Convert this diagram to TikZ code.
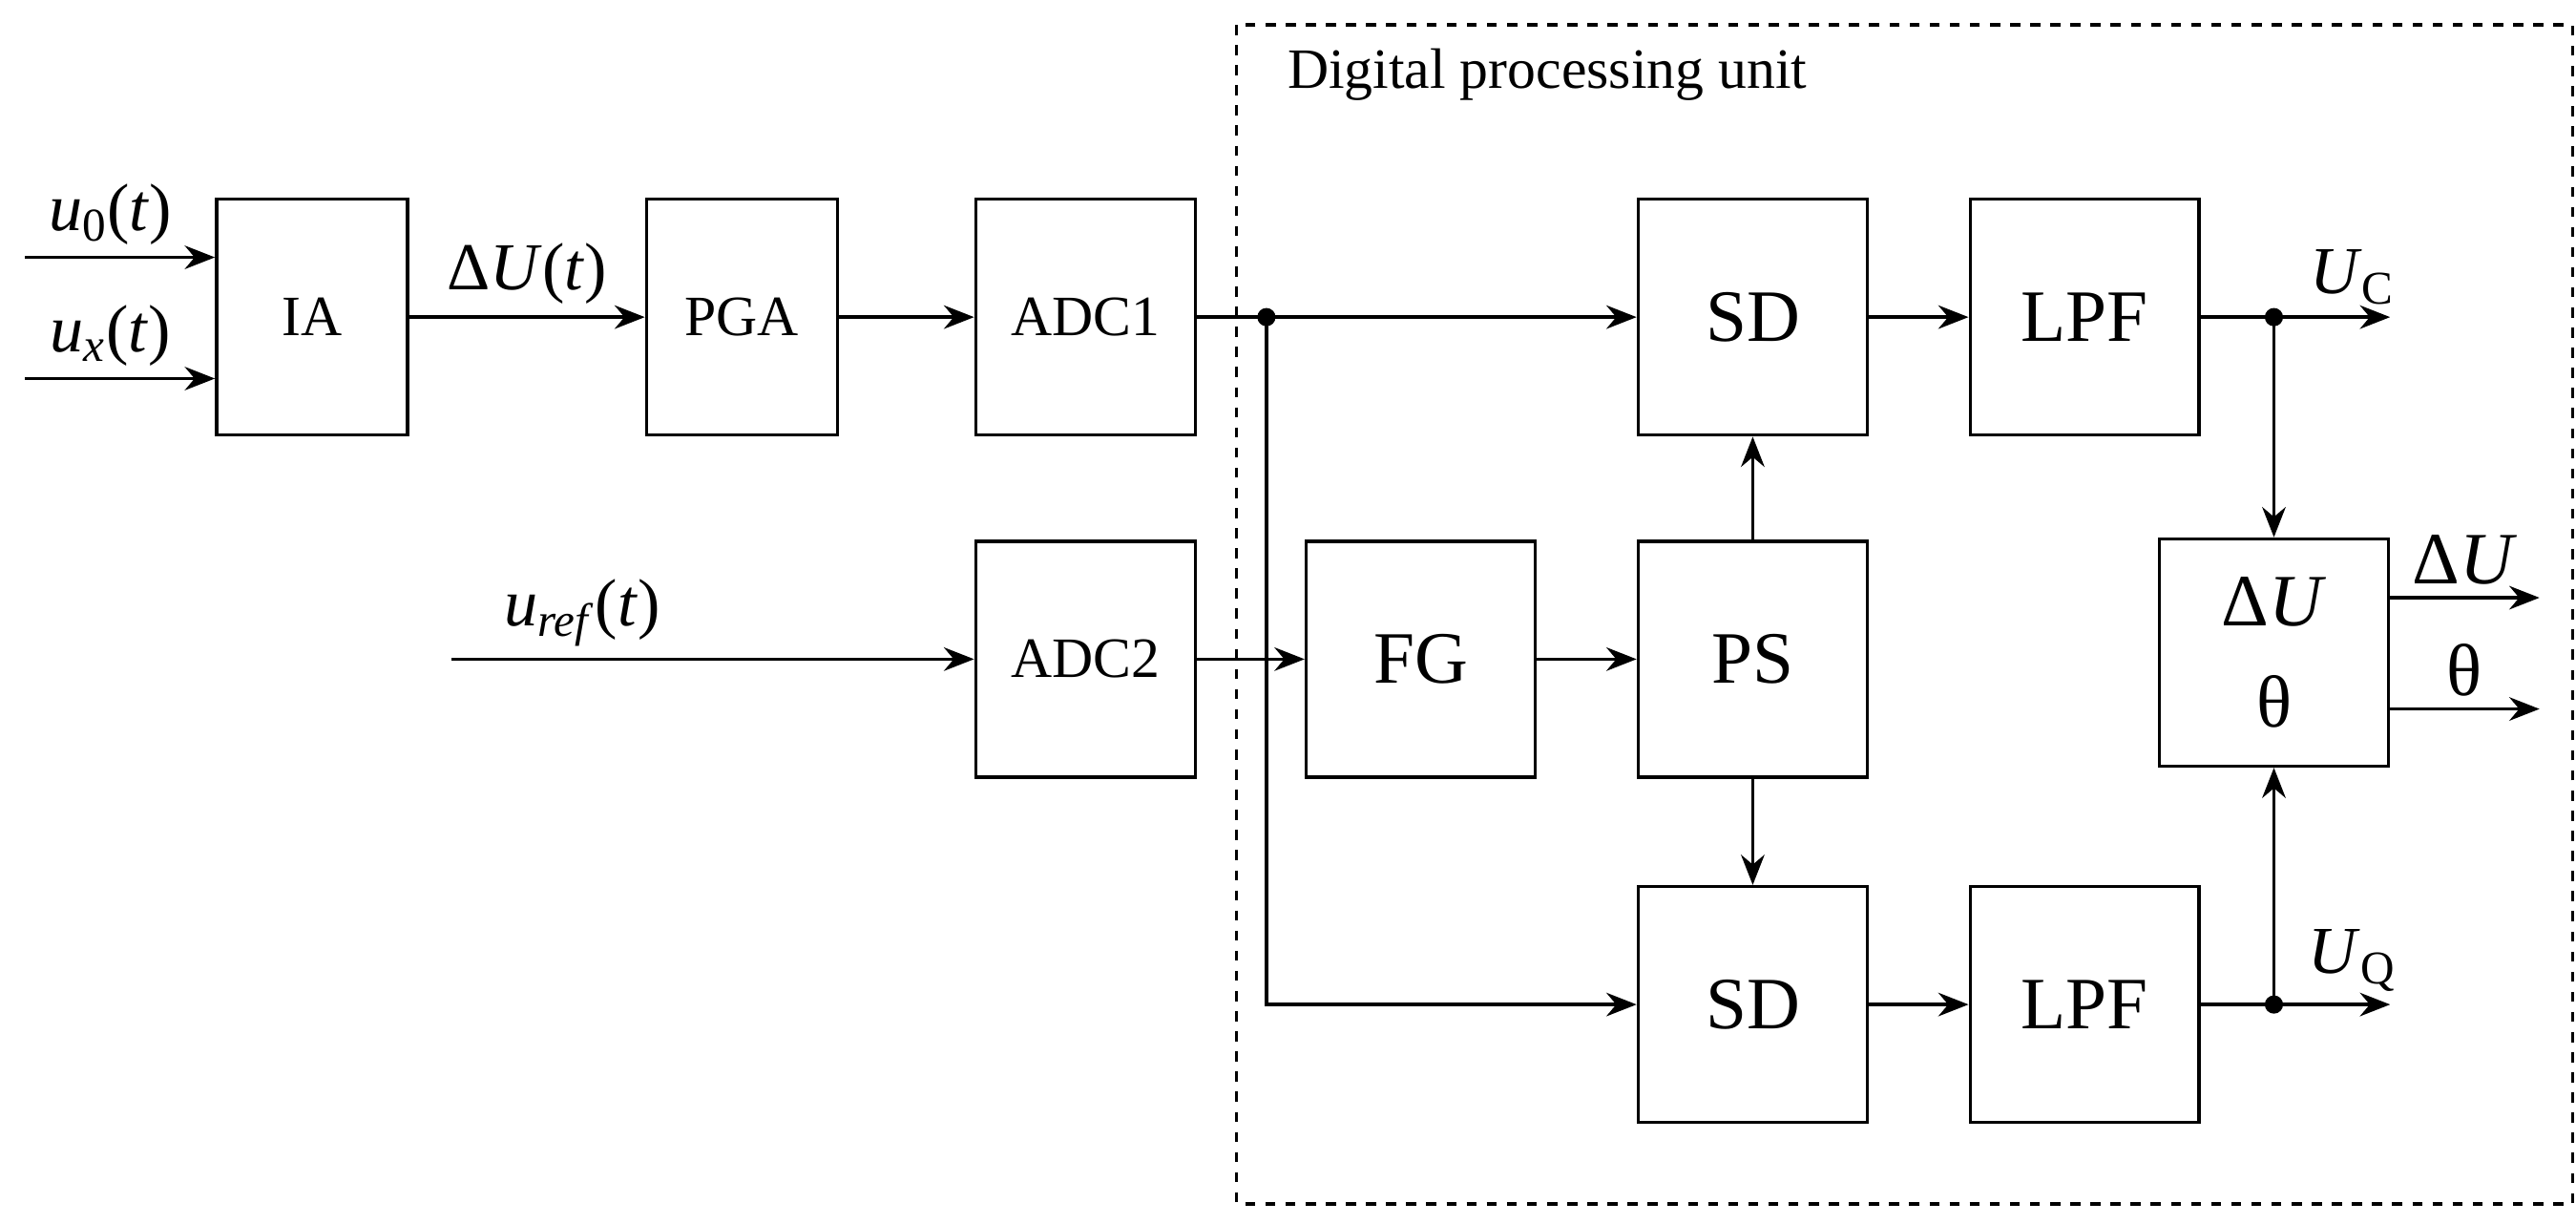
\documentclass[tikz,border=0pt]{standalone}
\usepackage{fontspec}
\setmainfont{Liberation Serif}
\usetikzlibrary{arrows.meta}
\newcommand{\vr}[1]{\textit{#1}}

\begin{document}
\begin{tikzpicture}[x=0.01739cm,y=-0.01739cm,>={Stealth[length=9pt,width=7pt]},line width=1pt]
	\tikzset{blk/.style={draw,line width=1pt,minimum width=2.0cm,minimum height=2.47cm,font=\fontsize{17}{20}\selectfont}}
	\tikzset{big/.style={blk,minimum width=2.4cm,font=\fontsize{22}{26}\selectfont}}
	\tikzset{lbl/.style={font=\fontsize{20}{24}\selectfont}}
	\useasboundingbox (0,0) rectangle (1552,737);
	\draw[dashed] (745,15) rectangle (1550,725);
	\node[anchor=west,font=\fontsize{17}{20}\selectfont] (T) at (768,45) {Digital processing unit};

	\node[blk] (IA) at (188,191) {IA};
	\node[blk] (PGA) at (447,191) {PGA};
	\node[blk,minimum width=2.3cm] (ADC1) at (654,191) {ADC1};
	\node[blk,minimum width=2.3cm] (ADC2) at (654,397) {ADC2};
	\node[big] (FG) at (856,397) {FG};
	\node[big] (PS) at (1056,397) {PS};
	\node[big] (SD1) at (1056,191) {SD};
	\node[big] (SD2) at (1056,605) {SD};
	\node[big] (LPF1) at (1256,191) {LPF};
	\node[big] (LPF2) at (1256,605) {LPF};
	\node[big,minimum height=2.38cm,align=center] (DU) at (1370,393) {Δ\vr{U}\\[4pt]θ};

	\coordinate (in0) at (15,155);
	\coordinate (inx) at (15,228);
	\coordinate (inr) at (272,397);
	\coordinate (J1) at (763,191);
	\coordinate (J2) at (763,605);
	\coordinate (JC) at (1370,191);
	\coordinate (JQ) at (1370,605);
	\coordinate (oC) at (1440,191);
	\coordinate (oQ) at (1440,605);
	\coordinate (oU) at (1530,360);
	\coordinate (oT) at (1530,427);

	\draw[->] (in0) -- (in0 -| IA.west) node[lbl,pos=0.45,above] {\vr{u}\textsubscript{0}(\vr{t})};
	\draw[->] (inx) -- (inx -| IA.west) node[lbl,pos=0.45,above] {\vr{u}\textsubscript{\vr{x}}(\vr{t})};
	\draw[->] (IA) -- (PGA) node[lbl,midway,above] {Δ\vr{U}(\vr{t})};
	\draw[->] (PGA) -- (ADC1);
	\draw[->] (inr) -- (ADC2) node[lbl,pos=0.25,above] {\vr{u}\textsubscript{\vr{ref}}(\vr{t})};
	\draw[->] (ADC1) -- (SD1);
	\draw[->] (J1) -- (J2) -- (SD2);
	\fill (J1) circle (5.5);
	\draw[->] (ADC2) -- (FG);
	\draw[->] (FG) -- (PS);
	\draw[->] (PS) -- (SD1);
	\draw[->] (PS) -- (SD2);
	\draw[->] (SD1) -- (LPF1);
	\draw[->] (SD2) -- (LPF2);
	\draw[->] (LPF1) -- (oC) node[lbl,pos=0.8,above] {\vr{U}\textsubscript{C}};
	\draw[->] (LPF2) -- (oQ) node[lbl,pos=0.8,above] {\vr{U}\textsubscript{Q}};
	\draw[->] (JC) -- (DU);
	\draw[->] (JQ) -- (DU);
	\fill (JC) circle (5.5);
	\fill (JQ) circle (5.5);
	\draw[->] (oU -| DU.east) -- (oU) node[lbl,midway,above,font=\fontsize{22}{26}\selectfont] {Δ\vr{U}};
	\draw[->] (oT -| DU.east) -- (oT) node[lbl,midway,above,font=\fontsize{22}{26}\selectfont] {θ};
\end{tikzpicture}
\end{document}
